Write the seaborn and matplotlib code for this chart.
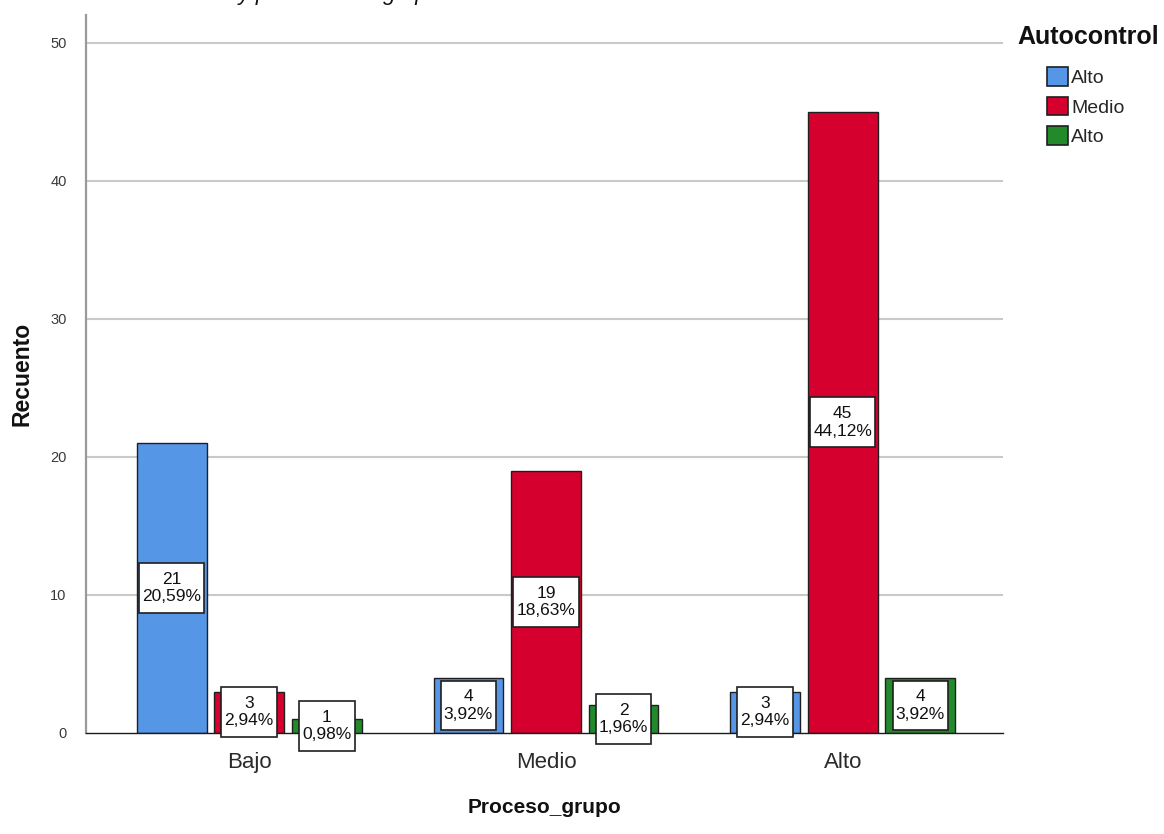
import matplotlib
matplotlib.use("Agg")
import matplotlib.pyplot as plt
from matplotlib.path import Path
import seaborn as sns
import pandas as pd

# Counts per Proceso_grupo category, one list per Autocontrol level
proceso_grupo = ["Bajo", "Medio", "Alto"]
autocontrol_labels = ["Alto", "Medio", "Alto"]
recuento_nivel_1 = [21, 4, 3]
recuento_nivel_2 = [3, 19, 45]
recuento_nivel_3 = [1, 2, 4]
colores = ["#5596E6", "#D6002F", "#238A2B"]

series = [recuento_nivel_1, recuento_nivel_2, recuento_nivel_3]
claves = [f"n{i}" for i in range(len(series))]
filas = []
for clave, valores in zip(claves, series):
    for cat, v in zip(proceso_grupo, valores):
        filas.append({"Proceso_grupo": cat, "nivel": clave, "Recuento": v})
df = pd.DataFrame(filas)
total = df["Recuento"].sum()

sns.set_theme(style="white")
plt.rcParams["font.family"] = ["Liberation Sans", "DejaVu Sans"]

W, H = 1164, 834
fig = plt.figure(figsize=(W / 100, H / 100), dpi=100)
ax = fig.add_axes([86 / W, 1 - 733 / H, (1003 - 86) / W, (733 - 15) / H])

sns.barplot(
    data=df, x="Proceso_grupo", y="Recuento", hue="nivel",
    order=proceso_grupo, hue_order=claves, palette=colores, saturation=1,
    width=0.784, gap=0.1, edgecolor="#1f1f1f", linewidth=1.0,
    errorbar=None, ax=ax, zorder=3,
)

ax.set_xlim(-0.55, 2.54)
ax.set_ylim(0, 52)
ax.set_yticks([0, 10, 20, 30, 40, 50])
for yv in [10, 20, 30, 40, 50]:
    ax.axhline(yv, color="#c9c9c9", lw=1.5, zorder=1)

for s in ["top", "right"]:
    ax.spines[s].set_visible(False)
ax.spines["left"].set_color("#9a9a9a")
ax.spines["left"].set_linewidth(1.6)
ax.spines["bottom"].set_color("#1a1a1a")
ax.spines["bottom"].set_linewidth(1.0)
ax.spines["bottom"].set_zorder(4)

ax.tick_params(axis="y", length=0, pad=14, labelsize=10.5, labelcolor="#3a3a3a")
ax.tick_params(axis="x", length=0, pad=14, labelsize=16, labelcolor="#2a2a2a")

ax.set_ylabel("Recuento", fontsize=16.5, fontweight="bold", color="#111111", labelpad=12)
ax.set_xlabel("Proceso_grupo", fontsize=15, fontweight="bold", color="#111111", labelpad=18)


def caja(x0, y0, width, height, mutation_size):
    """Rectangular label box with more vertical than horizontal padding."""
    px = 0.18 * mutation_size
    py = 0.5 * mutation_size
    x0, y0 = x0 - px, y0 - py
    x1, y1 = x0 + width + 2 * px, y0 + height + 2 * py
    return Path([(x0, y0), (x1, y0), (x1, y1), (x0, y1), (x0, y0)], closed=True)


# Count and percentage boxes centred on each bar
for cont in ax.containers:
    for bar in cont:
        h = bar.get_height()
        xc = bar.get_x() + bar.get_width() / 2
        pct = f"{100 * h / total:.2f}".replace(".", ",") + "%"
        ax.text(
            xc, h / 2, f"{int(round(h))}\n{pct}",
            ha="center", va="center", fontsize=12.5, color="#111111",
            linespacing=1.2, zorder=5,
            bbox=dict(boxstyle=caja, fc="white", ec="#1f1f1f", lw=1.2),
        )

handles, _ = ax.get_legend_handles_labels()
ax.get_legend().remove()
leg = fig.legend(
    handles, autocontrol_labels,
    loc="upper left", bbox_to_anchor=(1047 / W, 1 - 67 / H),
    frameon=False, fontsize=14,
    handlelength=1.1, handleheight=1.1, handletextpad=0.15,
    labelspacing=0.5, borderpad=0, borderaxespad=0,
)
for p in leg.get_patches():
    p.set_edgecolor("#1f1f1f")
    p.set_linewidth(1.2)
fig.text(1017 / W, 1 - 37 / H, "Autocontrol", ha="left", va="center",
         fontsize=18, fontweight="bold", color="#111111")

fig.text(440 / W, 1.0, "Autocontrol y procesos de grupo", ha="right", va="baseline",
         fontsize=16, style="italic", color="#111111")

fig.savefig("out.png", dpi=100)
